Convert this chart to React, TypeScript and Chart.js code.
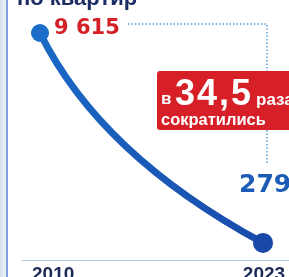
import React, { useEffect, useRef } from "react";
import { Chart, registerables } from "chart.js";

Chart.register(...registerables);

const years = [2010, 2023];
const values = [9615, 279];
const valueLabels = ["9 615", "279"];
const tickLabels = ["2010", "2023"];
const titleText = "по квартир";
const badgePre = "в";
const badgeBig = "34,5";
const badgePost = "раза";
const badgeLine2 = "сократились";

const FONT = '"Liberation Sans", Arial, sans-serif';
const HEAVY = '"DejaVu Sans", "Liberation Sans", sans-serif';

function setFont(ctx: CanvasRenderingContext2D, size: number, spacing = 0, family = FONT) {
  ctx.font = `bold ${size}px ${family}`;
  (ctx as any).letterSpacing = `${spacing}px`;
}

const decorPlugin = {
  id: "decor",
  beforeDraw(chart: any) {
    const { ctx, width, height, chartArea } = chart;
    ctx.save();
    ctx.fillStyle = "#ffffff";
    ctx.fillRect(0, 0, width, height);
    const g = ctx.createLinearGradient(0, 0, 6, 0);
    g.addColorStop(0, "#d9e2ee");
    g.addColorStop(1, "#eef2f8");
    ctx.fillStyle = g;
    ctx.fillRect(0, 0, 6, height);
    ctx.fillStyle = "#7f9fe2";
    ctx.fillRect(6, 0, 2, height);
    // title (cut off at top)
    setFont(ctx, 22);
    ctx.fillStyle = "#1c2d66";
    ctx.textAlign = "left";
    ctx.textBaseline = "alphabetic";
    ctx.fillText(titleText, 17, 5);
    // baseline axis line
    ctx.strokeStyle = "#a9cbe6";
    ctx.lineWidth = 1;
    ctx.beginPath();
    ctx.moveTo(22, chartArea.bottom + 0.5);
    ctx.lineTo(width, chartArea.bottom + 0.5);
    ctx.stroke();
    // x tick labels from the scale
    const xs = chart.scales.x;
    setFont(ctx, 19);
    ctx.fillStyle = "#1b2a57";
    years.forEach((yr, i) => {
      const px = xs.getPixelForValue(yr);
      if (i === 0) {
        ctx.textAlign = "left";
        ctx.fillText(tickLabels[i], px - 8, chartArea.bottom + 20);
      } else {
        ctx.textAlign = "center";
        ctx.fillText(tickLabels[i], px + 1, chartArea.bottom + 20);
      }
    });
    ctx.restore();
  },
  beforeDatasetsDraw(chart: any) {
    const { ctx } = chart;
    const pts = chart.getDatasetMeta(0).data;
    const p0 = pts[0];
    const p1 = pts[1];
    ctx.save();
    // dotted guide
    ctx.strokeStyle = "#5b9bd5";
    ctx.lineWidth = 1.5;
    ctx.setLineDash([1.5, 2]);
    ctx.beginPath();
    ctx.moveTo(128, p0.y - 9);
    ctx.lineTo(p1.x + 4, p0.y - 9);
    ctx.lineTo(p1.x + 4, p1.y - 78);
    ctx.stroke();
    ctx.setLineDash([]);
    // curve
    const cx = p0.x + 0.27 * (p1.x - p0.x);
    const cy = p0.y + 0.58 * (p1.y - p0.y);
    const grad = ctx.createLinearGradient(p0.x, p0.y, p1.x, p1.y);
    grad.addColorStop(0, "#1a6ac6");
    grad.addColorStop(1, "#1a4cac");
    ctx.strokeStyle = grad;
    ctx.lineWidth = 7;
    ctx.lineCap = "round";
    ctx.beginPath();
    ctx.moveTo(p0.x, p0.y);
    ctx.quadraticCurveTo(cx, cy, p1.x, p1.y);
    ctx.stroke();
    ctx.restore();
  },
  afterDatasetsDraw(chart: any) {
    const { ctx } = chart;
    const pts = chart.getDatasetMeta(0).data;
    const p0 = pts[0];
    const p1 = pts[1];
    ctx.save();
    ctx.textAlign = "left";
    ctx.textBaseline = "alphabetic";
    // start label
    setFont(ctx, 21, 0, HEAVY);
    ctx.fillStyle = "#d42027";
    ctx.fillText(valueLabels[0], p0.x + 14, p0.y + 1);
    // end label
    setFont(ctx, 25, 0, HEAVY);
    ctx.fillStyle = "#1c5bb5";
    ctx.fillText(valueLabels[1], p1.x - 24, p1.y - 51);
    // badge
    const bx = 157;
    const by = 71;
    ctx.fillStyle = "#d71f27";
    ctx.beginPath();
    (ctx as any).roundRect(bx, by, 150, 59, 3);
    ctx.fill();
    ctx.fillStyle = "#ffffff";
    setFont(ctx, 17);
    ctx.fillText(badgePre, bx + 4, by + 33);
    setFont(ctx, 36, 2);
    ctx.fillText(badgeBig, bx + 18, by + 34);
    setFont(ctx, 17);
    ctx.fillText(badgePost, bx + 99, by + 34);
    setFont(ctx, 16.5);
    ctx.fillText(badgeLine2, bx + 4, by + 54);
    ctx.restore();
  },
};

export default function App() {
  const ref = useRef<HTMLCanvasElement | null>(null);
  useEffect(() => {
    if (!ref.current) return;
    const chart = new Chart(ref.current, {
      type: "scatter",
      data: {
        datasets: [
          {
            data: years.map((x, i) => ({ x, y: values[i] })),
            showLine: false,
            pointRadius: [9, 10],
            pointHoverRadius: [9, 10],
            pointBackgroundColor: ["#1c6dc9", "#1848a8"],
            pointBorderWidth: 0,
            clip: false as any,
          },
        ],
      },
      options: {
        responsive: false,
        animation: false,
        layout: { padding: { left: 40, right: 26, top: 33, bottom: 17 } },
        plugins: { legend: { display: false }, tooltip: { enabled: false } },
        events: [],
        scales: {
          x: { type: "linear", min: 2010, max: 2023, display: false },
          y: { type: "linear", min: -480, max: 9615, display: false },
        },
      },
      plugins: [decorPlugin],
    });
    return () => chart.destroy();
  }, []);
  return (
    <div style={{ position: "fixed", left: 0, top: 0, width: 289, height: 277 }}>
      <canvas ref={ref} width={289} height={277} style={{ display: "block" }} />
    </div>
  );
}
